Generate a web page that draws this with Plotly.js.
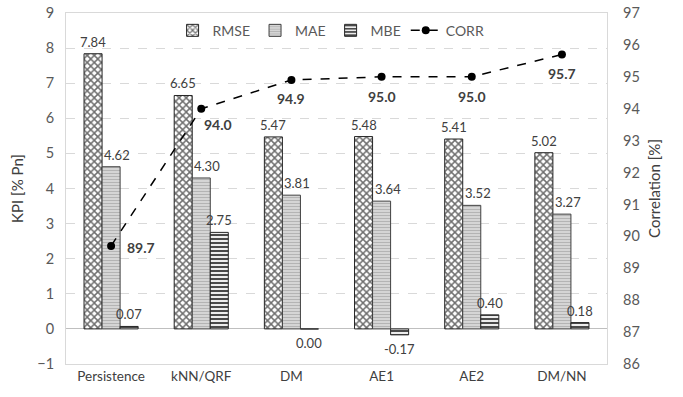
<!DOCTYPE html>
<html>
<head>
<meta charset="utf-8">
<script src="https://cdn.plot.ly/plotly-3.0.1.min.js"></script>
<style>html,body{margin:0;padding:0;background:#fff;}#chart{width:683px;height:397px;}</style>
</head>
<body>
<div id="chart"></div>
<script>
var categories = ["Persistence", "kNN/QRF", "DM", "AE1", "AE2", "DM/NN"];
var rmse = [7.84, 6.65, 5.47, 5.48, 5.41, 5.02];
var mae = [4.62, 4.30, 3.81, 3.64, 3.52, 3.27];
var mbe = [0.07, 2.75, -0.004, -0.17, 0.40, 0.18];
var corr = [89.7, 94.0, 94.9, 95.0, 95.0, 95.7];

function fmt(v, d) { var p = Math.pow(10, d); var r = Math.round(v * p) / p; if (r === 0) r = 0; return r.toFixed(d); }

var FONT = "Lato, 'Open Sans', sans-serif";
var W = 683, H = 397, M = {l: 66, r: 76, t: 13, b: 33};
var BARGAP = 0.4;
// pixel width of one bar (derived from layout)
var barPx = (W - M.l - M.r) / categories.length * (1 - BARGAP) / 3;

var traces = [
  {
    type: "bar", name: "RMSE", x: categories, y: rmse,
    marker: {color: "#ffffff", line: {color: "#262626", width: 1},
      pattern: {shape: "x", fgcolor: "#6e6e6e", bgcolor: "#ffffff", size: 5, solidity: 0.5, fillmode: "replace"}}
  },
  {
    type: "bar", name: "MAE", x: categories, y: mae,
    marker: {color: "#ffffff", line: {color: "#404040", width: 1},
      pattern: {shape: "-", fgcolor: "#b4b4b4", bgcolor: "#ffffff", size: 3, solidity: 0.7, fillmode: "replace"}}
  },
  {
    type: "bar", name: "MBE", x: categories, y: mbe,
    marker: {color: "#ffffff", line: {color: "#262626", width: 1},
      pattern: {shape: "-", fgcolor: "#4a4a4a", bgcolor: "#ffffff", size: 4, solidity: 0.55, fillmode: "replace"}}
  },
  {
    type: "scatter", mode: "lines+markers", name: "CORR", x: categories, y: corr, yaxis: "y2",
    cliponaxis: false,
    line: {color: "#000000", width: 1.5, dash: "dash"},
    marker: {color: "#000000", size: 8}
  }
];

var annotations = [];
// bar value labels
[[rmse, -barPx], [mae, 6], [mbe, barPx]].forEach(function(spec) {
  var vals = spec[0], dx = spec[1];
  vals.forEach(function(v, i) {
    var neg = v < 0;
    annotations.push({x: categories[i], y: v, xref: "x", yref: "y", text: fmt(v, 2),
      showarrow: false, xshift: dx, yanchor: neg ? "top" : "bottom", yshift: neg ? -4 : 2,
      font: {family: FONT, size: 13, color: "#404040"}});
  });
});
// correlation labels
var corrShiftX = [30, 17, 0, 0, 0, 0];
var corrShiftY = [-2, -16, -18, -20, -20, -19];
corr.forEach(function(v, i) {
  annotations.push({x: categories[i], y: v, xref: "x", yref: "y2", text: "<b>" + fmt(v, 1) + "</b>",
    showarrow: false, xshift: corrShiftX[i], yshift: corrShiftY[i],
    font: {family: FONT, size: 14, color: "#404040"}});
});

var layout = {
  width: W, height: H,
  margin: M,
  paper_bgcolor: "#ffffff", plot_bgcolor: "#ffffff",
  font: {family: FONT, size: 13, color: "#595959"},
  barmode: "group", bargap: BARGAP, bargroupgap: 0,
  showlegend: true,
  annotations: annotations,
  legend: {orientation: "h", x: 0.49, xanchor: "center", y: 0.995, yanchor: "top",
    font: {family: FONT, size: 14, color: "#595959"}, bgcolor: "rgba(255,255,255,0)", tracegroupgap: 0},
  xaxis: {
    type: "category", showline: true, linecolor: "#d9d9d9", linewidth: 1, mirror: true,
    showgrid: false, ticks: "", tickfont: {family: FONT, size: 13.5, color: "#404040"}
  },
  yaxis: {
    range: [-1, 9], dtick: 1, tick0: 0, showline: true, linecolor: "#d9d9d9", mirror: true,
    showgrid: true, gridcolor: "#d9d9d9", griddash: "dash", gridwidth: 1,
    zeroline: true, zerolinecolor: "#bfbfbf", zerolinewidth: 1,
    ticks: "", ticklabelstandoff: 8, tickfont: {family: FONT, size: 14.5, color: "#595959"},
    title: {text: "KPI [% Pn]", font: {family: FONT, size: 15, color: "#404040"}, standoff: 10}
  },
  yaxis2: {
    range: [86, 97], dtick: 1, overlaying: "y", side: "right", showgrid: false, zeroline: false,
    showline: false, ticks: "", ticklabelstandoff: 15, tickfont: {family: FONT, size: 14.5, color: "#595959"},
    title: {text: "Correlation [%]", font: {family: FONT, size: 15, color: "#404040"}, standoff: 10}
  }
};

Plotly.newPlot("chart", traces, layout, {displayModeBar: false, staticPlot: true});
</script>
</body>
</html>
